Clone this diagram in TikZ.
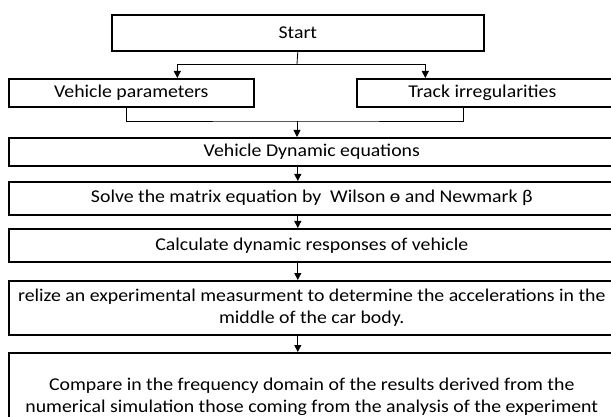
\documentclass[tikz,border=0pt]{standalone}
\usepackage{fontspec}
\setmainfont{Carlito}[FakeStretch=1.1]
\usetikzlibrary{arrows.meta}
\tikzset{
  box/.style={draw, line width=1.6pt, inner sep=0pt, align=center, anchor=north west},
  arr/.style={-{Triangle[length=7pt,width=7pt]}, line width=0.8pt},
  link/.style={line width=0.8pt},
}
\begin{document}
\begin{tikzpicture}[x=1pt, y=-1pt, font=\fontsize{18}{22}\selectfont]
        \useasboundingbox (0,0) rectangle (611,417);
        \clip (0,0) rectangle (611,417);
        % boxes
        \node[box, minimum width=372pt, minimum height=36pt] (start) at (111,14) {Start};
        \node[box, minimum width=245pt, minimum height=28pt] (vp) at (8,78) {Vehicle parameters};
        \node[box, minimum width=269pt, minimum height=28pt] (ti) at (356,78) {\hspace*{-18pt}Track irregularities};
        \node[box, minimum width=606pt, minimum height=28pt] (vde) at (8,137) {Vehicle Dynamic equations};
        \node[box, minimum width=606pt, minimum height=33pt] (solve) at (8,181) {Solve the matrix equation by \ Wilson ɵ and Newmark β};
        \node[box, minimum width=606pt, minimum height=33pt] (calc) at (8,228) {Calculate dynamic responses of vehicle};
        \node[box, minimum width=606pt, minimum height=54pt] (exp) at (8,280) {relize an experimental measurment to determine the accelerations in the\\ middle of the car body.};
        \node[box, minimum width=606pt, minimum height=88pt] (comp) at (8,352) {Compare in the frequency domain of the results derived from the\\ numerical simulation those coming from the analysis of the experiment};
        % connectors
        \coordinate (fork) at (297,64);
        \coordinate (join) at (297,121);
        \draw[link] (start.south) -- (fork);
        \draw[arr] (fork) -| ([xshift=46pt]vp.north);
        \draw[arr] (fork) -| ([xshift=-66pt]ti.north);
        \draw[link] ([xshift=-5pt]vp.south) |- (join) -| ([xshift=-28pt]ti.south);
        \draw[arr] (join) -- (join |- vde.north);
        \draw[arr] (vde.south -| start.south) -- (solve.north -| start.south);
        \draw[arr] (solve.south -| start.south) -- (calc.north -| start.south);
        \draw[arr] (calc.south -| start.south) -- (exp.north -| start.south);
        \draw[arr] (exp.south -| start.south) -- (comp.north -| start.south);
    \end{tikzpicture}
\end{document}
